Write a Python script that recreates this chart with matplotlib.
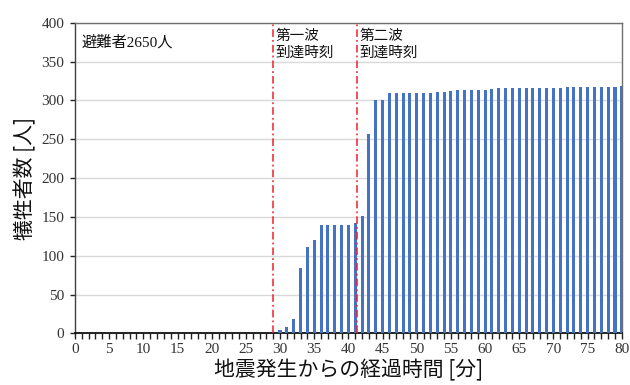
import matplotlib
matplotlib.use("Agg")
import matplotlib.pyplot as plt

minutes = list(range(0, 81))
victims = [0, 0, 0, 0, 0, 0, 0, 0, 0, 0,
           0, 0, 0, 0, 0, 0, 0, 0, 0, 0,
           0, 0, 0, 0, 0, 0, 0, 0, 0, 0,
           5, 8, 19, 84, 111, 120, 139, 139, 139, 139,
           140, 142, 151, 257, 300, 300, 310, 310, 310, 310,
           310, 310, 310, 311, 311, 312, 313, 313, 314, 314,
           314, 315, 316, 316, 316, 316, 316, 316, 316, 316,
           316, 316, 317, 317, 317, 317, 317, 317, 317, 317,
           318]
wave_times = [28.9, 41.2]
wave_labels = ["第一波\n到達時刻", "第二波\n到達時刻"]
evacuee_note = "避難者2650人"
xlabel = "地震発生からの経過時間 [分]"
ylabel = "犠牲者数 [人]"

jp = ["Noto Sans CJK JP", "DejaVu Sans"]
serif = ["Liberation Serif", "DejaVu Serif"]
mixed = ["Liberation Serif", "Noto Sans CJK JP"]

plt.rcParams["font.family"] = serif

fig = plt.figure(figsize=(6.3, 3.85), dpi=100)
ax = fig.add_axes([0.119, 0.134, 0.868, 0.807])

ax.bar(minutes, victims, width=0.45, color="#4472C4", zorder=3)

for t in wave_times:
    ax.axvline(t, color="#F0202A", linestyle=(0, (5, 2, 1.2, 2)), linewidth=1.1, zorder=4)

ax.set_xlim(0, 80)
ax.set_ylim(0, 400)
ax.set_xticks(range(0, 81, 5))
ax.set_xticks(range(0, 81, 1), minor=True)
ax.set_yticks(range(0, 401, 50))
ax.yaxis.grid(True, color="#D9D9D9", linewidth=1.0, zorder=0)
ax.set_axisbelow(True)

ax.tick_params(axis="both", which="both", direction="out", colors="#222222",
               labelcolor="#333333", labelsize=11)
ax.tick_params(axis="x", which="major", length=4, width=1, pad=3)
ax.tick_params(axis="x", which="minor", length=4, width=1)
ax.tick_params(axis="y", which="major", length=3.6, width=1, pad=4)

ax.spines["left"].set_color("#404040")
ax.spines["bottom"].set_color("#111111")
ax.spines["top"].set_color("#707070")
ax.spines["right"].set_color("#707070")
for s in ax.spines.values():
    s.set_linewidth(1.0)
ax.spines["bottom"].set_linewidth(1.3)

ax.set_xlabel(xlabel, fontfamily=jp, fontsize=15, labelpad=2, color="#111111")
ax.set_ylabel(ylabel, fontfamily=jp, fontsize=15, labelpad=4, color="#111111")

ax.text(1.0, 375, evacuee_note, fontfamily=mixed, fontsize=11, va="center", ha="left",
        color="#111111", zorder=5)
for t, lbl in zip(wave_times, wave_labels):
    ax.text(t + 0.4, 392, lbl, fontfamily=jp, fontsize=10.5, va="top", ha="left",
            color="#111111", linespacing=1.3, zorder=5)

fig.savefig("out.png", dpi=100)
